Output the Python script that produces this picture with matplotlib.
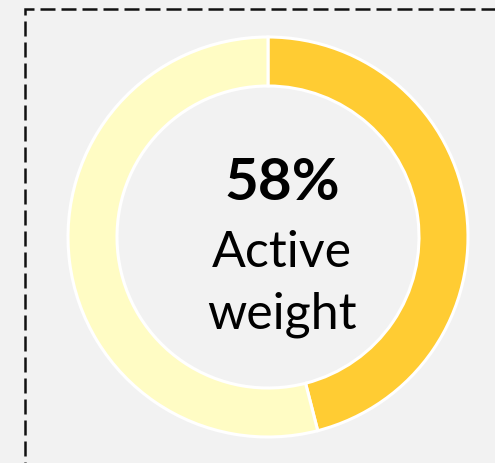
import matplotlib.pyplot as plt
from matplotlib.patches import Rectangle

# donut data
labels = ["Active", "Passive"]
shares = [46, 54]
colors = ["#FFCC33", "#FFFCC4"]
headline = "58%"
caption = ["Active", "weight"]

W, H = 495, 463
fig = plt.figure(figsize=(W / 100, H / 100), dpi=100, facecolor="#F2F2F2")
ax = fig.add_axes([0, 0, 1, 1])
ax.set_xlim(0, W)
ax.set_ylim(0, H)
ax.set_aspect("equal")
ax.axis("off")

# dashed frame running off the right/bottom edge
ax.add_patch(Rectangle((25, -20), 520, H - 9 + 20, fill=False, edgecolor="#111111",
                       linewidth=1.8, linestyle=(0, (6, 2.4)), zorder=1))

cx, cy = 268, H - 237
ax.pie(shares, colors=colors, startangle=90, counterclock=False,
       radius=200, center=(cx, cy), frame=True,
       wedgeprops=dict(width=49, edgecolor="white", linewidth=2.2))
ax.set_xlim(0, W)
ax.set_ylim(0, H)
ax.axis("off")

font = "Lato"
tx = cx + 14
ax.text(tx, H - 200, headline, ha="center", va="baseline", fontsize=42,
        fontweight="bold", family=font)
ax.text(tx, H - 267, caption[0], ha="center", va="baseline", fontsize=36,
        family=font)
ax.text(tx, H - 328, caption[1], ha="center", va="baseline", fontsize=36,
        family=font)

fig.savefig("out.png", dpi=100, facecolor=fig.get_facecolor())
